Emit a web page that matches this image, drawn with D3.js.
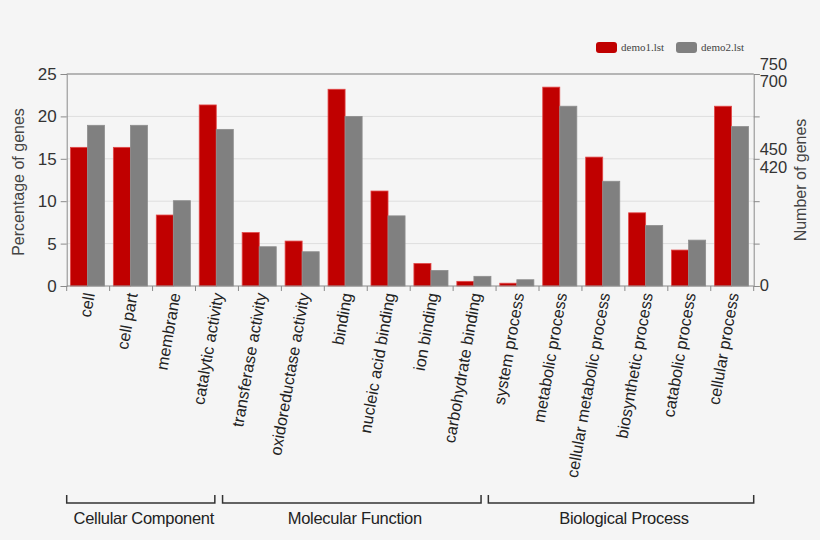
<!DOCTYPE html>
<html>
<head>
<meta charset="utf-8">
<script src="https://cdn.jsdelivr.net/npm/d3@7/dist/d3.min.js"></script>
<style>
  html, body { margin: 0; padding: 0; background: #f5f5f5; }
  svg { display: block; }
</style>
</head>
<body>
<svg id="chart" width="820" height="540"></svg>
<script>
// ---- data ----
const categories = [
  "cell", "cell part", "membrane", "catalytic activity",
  "transferase activity", "oxidoreductase activity", "binding",
  "nucleic acid binding", "ion binding", "carbohydrate binding",
  "system process", "metabolic process", "cellular metabolic process",
  "biosynthetic process", "catabolic process", "cellular process"
];
const seriesNames = ["demo1.lst", "demo2.lst"];
const demo1 = [16.35, 16.35, 8.37, 21.35, 6.3, 5.3, 23.2, 11.2, 2.65, 0.55,
               0.33, 23.45, 15.2, 8.63, 4.24, 21.2];
const demo2 = [18.95, 18.95, 10.06, 18.47, 4.63, 4.04, 20.0, 8.27, 1.84, 1.14,
               0.74, 21.2, 12.35, 7.14, 5.41, 18.8];
const leftTicks = [0, 5, 10, 15, 20, 25];
const rightTickMarks = [0, 150, 300, 450, 600, 750];
const rightTickLabels = [750, 700, 450, 420, 0];
const groupNames = ["Cellular Component", "Molecular Function", "Biological Process"];
const groupSpans = [[0, 3.45], [3.63, 9.65], [9.82, 16]]; // in category units

// ---- layout ----
const svg = d3.select("#chart");
const SANS = "'Liberation Sans', Arial, Helvetica, sans-serif";
const SERIF = "'Liberation Serif', 'Times New Roman', serif";
const plot = { left: 66.7, right: 753.7, top: 74, bottom: 286 };
const red = "#c00000", gray = "#808080", axisCol = "#8a8a8a";

const x = d3.scaleBand().domain(categories).range([plot.left, plot.right]).padding(0);
const xi = d3.scaleLinear().domain([0, categories.length]).range([plot.left, plot.right]);
const x1 = d3.scaleBand().domain(seriesNames).range([0, x.bandwidth()])
  .paddingInner(0).paddingOuter(0.26).align(0.42);
const y = d3.scaleLinear().domain([0, 25]).range([plot.bottom, plot.top]);
const yR = d3.scaleLinear().domain([0, 750]).range([plot.bottom, plot.top]);

// gridlines
svg.append("g").selectAll("line").data(leftTicks.filter(t => t > 0 && t < 25)).join("line")
  .attr("x1", plot.left).attr("x2", plot.right)
  .attr("y1", d => y(d)).attr("y2", d => y(d))
  .attr("stroke", "#dedede").attr("stroke-width", 1);

// top border
svg.append("line").attr("x1", plot.left).attr("x2", plot.right)
  .attr("y1", y(25)).attr("y2", y(25)).attr("stroke", "#777").attr("stroke-width", 1.2);

// bars
const rows = categories.map((c, i) => ({ c, vals: [demo1[i], demo2[i]] }));
const g = svg.append("g").selectAll("g").data(rows).join("g")
  .attr("transform", d => `translate(${x(d.c)},0)`);
g.selectAll("rect").data(d => d.vals.map((v, k) => ({ k, v }))).join("rect")
  .attr("x", d => x1(seriesNames[d.k]))
  .attr("width", x1.bandwidth())
  .attr("y", d => y(d.v))
  .attr("height", d => y(0) - y(d.v))
  .attr("fill", d => d.k === 0 ? red : gray)
  .attr("stroke", d => d.k === 0 ? "#e24848" : "#8e8e8e")
  .attr("stroke-width", 0.8);

// left axis
const leftAxis = d3.axisLeft(y).tickValues(leftTicks).tickSize(6).tickPadding(4);
const la = svg.append("g").attr("transform", `translate(${plot.left},0)`).call(leftAxis);
la.select(".domain").attr("stroke", axisCol);
la.selectAll(".tick line").attr("stroke", axisCol);
la.selectAll(".tick text").style("font-size", "17px").style("fill", "#333")
  .style("font-family", SANS);

// right axis
const rightAxis = d3.axisRight(yR).tickValues(rightTickMarks).tickSize(6).tickFormat("");
const ra = svg.append("g").attr("transform", `translate(${plot.right},0)`).call(rightAxis);
ra.select(".domain").attr("stroke", axisCol);
ra.selectAll(".tick line").attr("stroke", axisCol);
const rightNudge = [-10, -7, -10, 0, -1];
svg.append("g").selectAll("text").data(rightTickLabels).join("text")
  .attr("x", plot.right + 6)
  .attr("y", (d, i) => yR(d) + rightNudge[i])
  .attr("dy", "0.35em")
  .style("font-size", "16.5px").style("font-family", SANS).style("fill", "#333")
  .text(d => d);

// bottom axis
svg.append("line").attr("x1", plot.left).attr("x2", plot.right)
  .attr("y1", plot.bottom).attr("y2", plot.bottom).attr("stroke", axisCol);
svg.append("g").selectAll("line").data(d3.range(categories.length + 1)).join("line")
  .attr("x1", d => xi(d)).attr("x2", d => xi(d))
  .attr("y1", plot.bottom).attr("y2", plot.bottom + 5)
  .attr("stroke", axisCol);

// category labels
svg.append("g").selectAll("text").data(categories).join("text")
  .attr("transform", d => `translate(${x(d) + x.bandwidth() / 2 + 1},${plot.bottom + 7}) rotate(-80)`)
  .attr("text-anchor", "end")
  .attr("dy", "0.35em")
  .style("font-size", "16.3px").style("font-family", SANS).style("fill", "#222")
  .text(d => d);

// axis titles
svg.append("text")
  .attr("transform", `translate(18,${(plot.top + plot.bottom) / 2 + 2}) rotate(-90)`)
  .attr("text-anchor", "middle").attr("dy", "0.35em")
  .style("font-size", "16px").style("font-family", SANS).style("fill", "#444")
  .text("Percentage of genes");
svg.append("text")
  .attr("transform", `translate(800,${(plot.top + plot.bottom) / 2}) rotate(-90)`)
  .attr("text-anchor", "middle").attr("dy", "0.35em")
  .style("font-size", "16px").style("font-family", SANS).style("fill", "#444")
  .text("Number of genes");

// group brackets
const bTop = 495, bBot = 503;
const gg = svg.append("g").selectAll("g").data(groupNames).join("g");
gg.append("path")
  .attr("d", (d, i) => {
    const a = xi(groupSpans[i][0]), b = xi(groupSpans[i][1]);
    return `M${a},${bTop}V${bBot}H${b}V${bTop}`;
  })
  .attr("fill", "none").attr("stroke", "#333").attr("stroke-width", 1.5);
gg.append("text")
  .attr("x", (d, i) => (xi(groupSpans[i][0]) + xi(groupSpans[i][1])) / 2 + 3)
  .attr("y", 518).attr("dy", "0.35em")
  .attr("text-anchor", "middle")
  .style("font-size", "16.5px").style("font-family", SANS).style("fill", "#222")
  .style("letter-spacing", "-0.3px")
  .text(d => d);

// legend
const legX = [596, 676];
const lg = svg.append("g").selectAll("g").data(seriesNames).join("g")
  .attr("transform", (d, i) => `translate(${legX[i]},42)`);
lg.append("rect").attr("width", 21).attr("height", 11).attr("rx", 3)
  .attr("fill", (d, i) => i === 0 ? red : gray);
lg.append("text").attr("x", 25).attr("y", 5.5).attr("dy", "0.35em")
  .style("font-size", "11px").style("font-family", SERIF).style("fill", "#444")
  .text(d => d);
</script>
</body>
</html>
